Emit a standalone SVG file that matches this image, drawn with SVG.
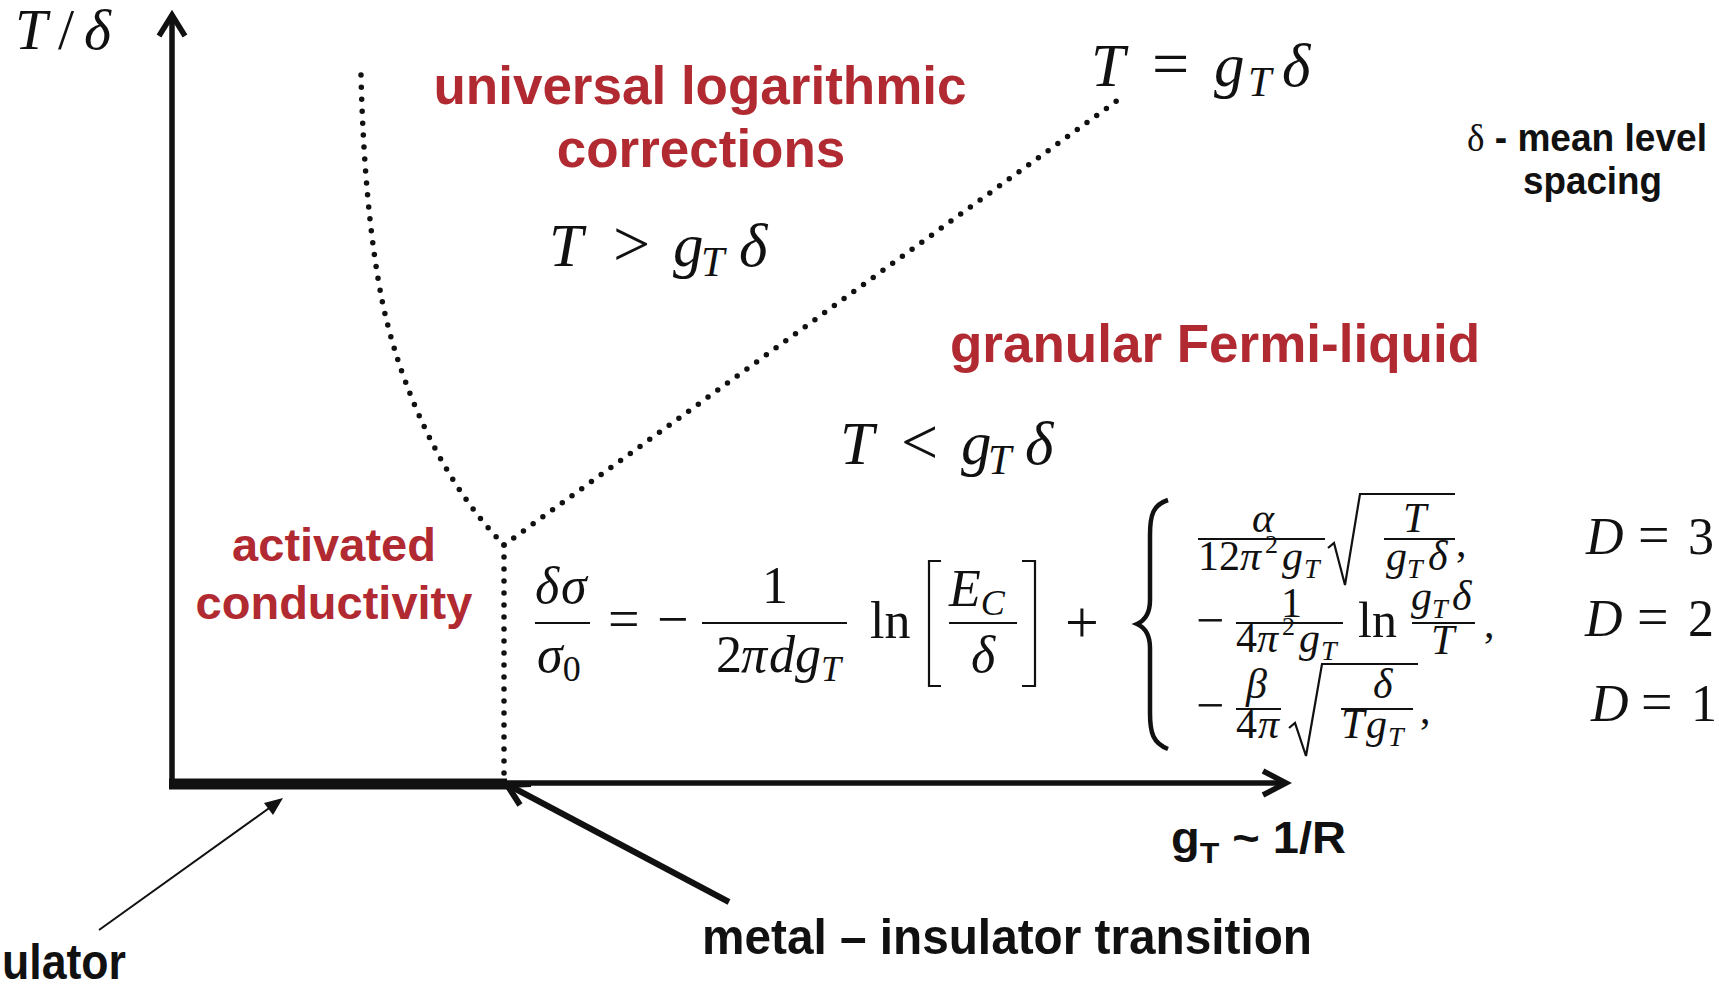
<svg xmlns="http://www.w3.org/2000/svg" width="1719" height="986" viewBox="0 0 1719 986">
<style>
.m{font-family:"Liberation Serif","Times New Roman",serif;font-style:italic;fill:#111}
.u{font-family:"Liberation Serif","Times New Roman",serif;font-style:normal;fill:#111}
.red{font-family:"Liberation Sans",Arial,sans-serif;font-weight:bold;fill:#B12A31}
.blk{font-family:"Liberation Sans",Arial,sans-serif;font-weight:bold;fill:#111}
.dot{fill:none;stroke:#111;stroke-width:5.5;stroke-linecap:round;stroke-dasharray:0 12}
.ax{fill:none;stroke:#111;stroke-linecap:butt}
.bar{stroke:#111;stroke-width:2.2}
.rad{fill:none;stroke:#111;stroke-width:2.2;stroke-linejoin:miter}
</style>
<rect width="1719" height="986" fill="#fff"/>

<g id="connectors">
  <line class="ax" x1="172" y1="18" x2="172" y2="789" stroke-width="5.5"/>
  <polyline class="ax" points="159,36 172,15 185,36" stroke-width="5.5" stroke-linejoin="miter"/>
  <line class="ax" x1="169" y1="784" x2="507" y2="784" stroke-width="11"/>
  <line class="ax" x1="507" y1="783" x2="1284" y2="783" stroke-width="5.5"/>
  <polyline class="ax" points="1263,771 1286,783 1263,795" stroke-width="5.5" stroke-linejoin="miter"/>
  <path class="dot" d="M361,75 C363,160 370,240 382,300 S430,470 504,545"/>
  <path class="dot" d="M504,545 L1118,100"/>
  <path class="dot" d="M504,545 L504,775"/>
  <line class="ax" x1="729" y1="902" x2="510" y2="786" stroke-width="6"/>
  <polyline class="ax" points="520,805 507,785 531,784" stroke-width="6" stroke-linejoin="miter"/>
  <line class="ax" x1="99" y1="930" x2="272" y2="806" stroke-width="2"/>
  <polygon points="283,798 264,803 273,815" fill="#111"/>
</g>

<g id="axis-labels">
  <text class="m" font-size="58" y="49"><tspan x="15">T</tspan><tspan x="58" class="u">/</tspan><tspan x="84">δ</tspan></text>
  <text class="blk" font-size="44" x="1171" y="853" textLength="175" lengthAdjust="spacingAndGlyphs">g<tspan font-size="30" dy="10">T</tspan><tspan dy="-10"> ~ 1/R</tspan></text>
</g>

<g id="region-universal">
  <text class="red" font-size="53" x="700" y="104" text-anchor="middle">universal logarithmic</text>
  <text class="red" font-size="53" x="701" y="167" text-anchor="middle">corrections</text>
  <text class="m" font-size="61" y="266"><tspan x="549">T</tspan><tspan class="u" x="613" font-size="66">&gt;</tspan><tspan x="673">g</tspan><tspan x="701" font-size="42" dy="10">T</tspan><tspan x="739" dy="-10">δ</tspan></text>
</g>

<g id="crossover-label">
  <text class="m" font-size="61" y="86"><tspan x="1091">T</tspan><tspan class="u" x="1152" font-size="66">=</tspan><tspan x="1214">g</tspan><tspan x="1248" font-size="42" dy="10">T</tspan><tspan x="1282" dy="-10">δ</tspan></text>
</g>

<g id="legend">
  <text class="blk" font-size="38" x="1467" y="151" textLength="240" lengthAdjust="spacingAndGlyphs"><tspan class="u" font-weight="normal">δ</tspan> - mean level</text>
  <text class="blk" font-size="38" x="1523" y="194" textLength="139" lengthAdjust="spacingAndGlyphs">spacing</text>
</g>

<g id="region-fermi-liquid">
  <text class="red" font-size="53" x="1215" y="362" text-anchor="middle">granular Fermi-liquid</text>
  <text class="m" font-size="61" y="464"><tspan x="840">T</tspan><tspan class="u" x="901" font-size="66">&lt;</tspan><tspan x="961">g</tspan><tspan x="988" font-size="42" dy="10">T</tspan><tspan x="1025" dy="-10">δ</tspan></text>
</g>

<g id="region-activated">
  <text class="red" font-size="47" x="334" y="561" text-anchor="middle">activated</text>
  <text class="red" font-size="47" x="334" y="619" text-anchor="middle">conductivity</text>
</g>

<g id="equation">
  <text class="m" font-size="52" y="603"><tspan x="535">δ</tspan><tspan x="561">σ</tspan></text>
  <line class="bar" x1="535" y1="623" x2="590" y2="623"/>
  <text class="m" font-size="52" x="537" y="672">σ<tspan class="u" font-size="36" dy="9">0</tspan></text>
  <text class="u" font-size="56" x="608" y="638">=</text>
  <text class="u" font-size="56" x="657" y="638">−</text>
  <text class="u" font-size="52" x="762" y="603">1</text>
  <line class="bar" x1="702" y1="623" x2="847" y2="623"/>
  <text class="m" font-size="52" y="672"><tspan class="u" x="716">2</tspan><tspan x="741">π</tspan><tspan x="769">d</tspan><tspan x="795">g</tspan><tspan x="821" font-size="36" dy="9">T</tspan></text>
  <text class="u" font-size="52" x="870" y="638">ln</text>
  <path class="rad" d="M941,561 H929 V686 H941"/>
  <text class="m" font-size="52" x="949" y="606">E<tspan font-size="36" dy="9">C</tspan></text>
  <line class="bar" x1="949" y1="623" x2="1017" y2="623"/>
  <text class="m" font-size="52" x="971" y="672">δ</text>
  <path class="rad" d="M1022,561 H1035 V686 H1022"/>
  <text class="u" font-size="60" x="1065" y="642">+</text>
  <path fill="none" stroke="#111" stroke-width="4.5" d="M1168,500 C1153,505 1150,515 1150,535 L1150,600 C1150,612 1146,620 1137,624 C1146,628 1150,636 1150,648 L1150,713 C1150,733 1153,743 1168,749"/>
  <!-- row 1 -->
  <text class="m" font-size="42" x="1252" y="532">α</text>
  <line class="bar" x1="1198" y1="539" x2="1325" y2="539"/>
  <text class="m" font-size="42" y="570"><tspan class="u" x="1198">12</tspan><tspan x="1240">π</tspan><tspan class="u" x="1265" font-size="26" dy="-17">2</tspan><tspan x="1282" dy="17">g</tspan><tspan x="1304" font-size="28" dy="8">T</tspan></text>
  <path class="rad" d="M1328,548 L1334,543 L1345,585 L1360,494 H1455"/>
  <text class="m" font-size="42" x="1403" y="532">T</text>
  <line class="bar" x1="1384" y1="539" x2="1455" y2="539"/>
  <text class="m" font-size="42" y="570"><tspan x="1386">g</tspan><tspan x="1407" font-size="28" dy="8">T</tspan><tspan x="1428" dy="-8">δ</tspan></text>
  <text class="u" font-size="42" x="1456" y="556">,</text>
  <text class="m" font-size="52" y="554"><tspan x="1586">D</tspan><tspan class="u" x="1638" font-size="56">=</tspan><tspan class="u" x="1688">3</tspan></text>
  <!-- row 2 -->
  <text class="u" font-size="50" x="1196" y="637">−</text>
  <text class="u" font-size="42" x="1281" y="617">1</text>
  <line class="bar" x1="1236" y1="623" x2="1343" y2="623"/>
  <text class="m" font-size="42" y="652"><tspan class="u" x="1236">4</tspan><tspan x="1257">π</tspan><tspan class="u" x="1282" font-size="26" dy="-17">2</tspan><tspan x="1299" dy="17">g</tspan><tspan x="1321" font-size="28" dy="8">T</tspan></text>
  <text class="u" font-size="50" x="1358" y="637">ln</text>
  <text class="m" font-size="42" y="610"><tspan x="1411">g</tspan><tspan x="1432" font-size="28" dy="8">T</tspan><tspan x="1452" dy="-8">δ</tspan></text>
  <line class="bar" x1="1412" y1="623" x2="1475" y2="623"/>
  <text class="m" font-size="42" x="1431" y="654">T</text>
  <text class="u" font-size="42" x="1484" y="637">,</text>
  <text class="m" font-size="52" y="636"><tspan x="1585">D</tspan><tspan class="u" x="1637" font-size="56">=</tspan><tspan class="u" x="1688">2</tspan></text>
  <!-- row 3 -->
  <text class="u" font-size="50" x="1196" y="722">−</text>
  <text class="m" font-size="42" x="1246" y="698">β</text>
  <line class="bar" x1="1236" y1="709" x2="1281" y2="709"/>
  <text class="m" font-size="42" y="738"><tspan class="u" x="1236">4</tspan><tspan x="1258">π</tspan></text>
  <path class="rad" d="M1289,728 L1295,723 L1306,756 L1322,664 H1418"/>
  <text class="m" font-size="42" x="1373" y="698">δ</text>
  <line class="bar" x1="1341" y1="709" x2="1413" y2="709"/>
  <text class="m" font-size="42" y="738"><tspan x="1341">T</tspan><tspan x="1366">g</tspan><tspan x="1388" font-size="28" dy="8">T</tspan></text>
  <text class="u" font-size="42" x="1420" y="723">,</text>
  <text class="m" font-size="52" y="721"><tspan x="1591">D</tspan><tspan class="u" x="1641" font-size="56">=</tspan><tspan class="u" x="1691">1</tspan></text>
</g>

<g id="label-mit">
  <text class="blk" font-size="50" x="702" y="954" textLength="610" lengthAdjust="spacingAndGlyphs">metal – insulator transition</text>
</g>

<g id="label-insulator">
  <text class="blk" font-size="50" x="2" y="979" textLength="124" lengthAdjust="spacingAndGlyphs">ulator</text>
</g>
</svg>
